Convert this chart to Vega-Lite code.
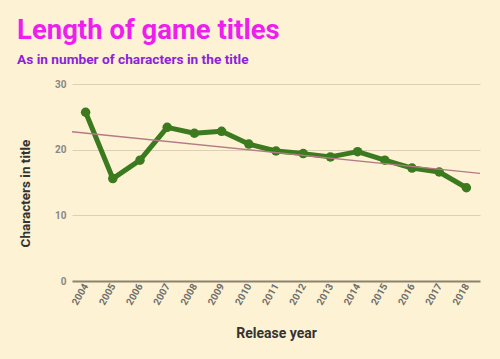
{
  "$schema": "https://vega.github.io/schema/vega-lite/v6.json",
  "width": 408,
  "height": 197,
  "autosize": "none",
  "padding": {"left": 72, "top": 84, "right": 20, "bottom": 78},
  "background": "#fdf2d3",
  "config": {
    "view": {"stroke": null},
    "font": "Roboto"
  },
  "title": {
    "text": "Length of game titles",
    "subtitle": "As in number of characters in the title",
    "anchor": "start",
    "frame": "group",
    "dx": -55,
    "offset": 12,
    "font": "Roboto",
    "fontSize": 27.5,
    "fontWeight": "bold",
    "color": "#ee1fee",
    "subtitleFont": "Roboto",
    "subtitleFontSize": 13.7,
    "subtitleFontWeight": "bold",
    "subtitleColor": "#8b22dd",
    "subtitlePadding": 9
  },
  "data": {
    "values": [
      {"year": 2004, "chars": 25.7},
      {"year": 2005, "chars": 15.6},
      {"year": 2006, "chars": 18.4},
      {"year": 2007, "chars": 23.4},
      {"year": 2008, "chars": 22.5},
      {"year": 2009, "chars": 22.8},
      {"year": 2010, "chars": 20.85},
      {"year": 2011, "chars": 19.8},
      {"year": 2012, "chars": 19.4},
      {"year": 2013, "chars": 18.9},
      {"year": 2014, "chars": 19.7},
      {"year": 2015, "chars": 18.4},
      {"year": 2016, "chars": 17.2},
      {"year": 2017, "chars": 16.6},
      {"year": 2018, "chars": 14.2}
    ]
  },
  "encoding": {
    "x": {
      "field": "year",
      "type": "quantitative",
      "scale": {"domain": [2003.5, 2018.5], "nice": false, "zero": false},
      "axis": {
        "title": "Release year",
        "titleFont": "Roboto",
        "titleFontSize": 14,
        "titleFontWeight": "bold",
        "titleColor": "#333333",
        "titlePadding": 20,
        "values": [2004, 2005, 2006, 2007, 2008, 2009, 2010, 2011, 2012, 2013, 2014, 2015, 2016, 2017, 2018],
        "format": "d",
        "labelAngle": -60,
        "labelFontSize": 10,
        "labelFontWeight": "bold",
        "labelColor": "#6e6e6e",
        "labelPadding": 3,
        "domain": false,
        "ticks": false,
        "grid": false
      }
    },
    "y": {
      "field": "chars",
      "type": "quantitative",
      "scale": {"domain": [0, 30], "nice": false},
      "axis": {
        "title": "Characters in title",
        "titleFont": "Roboto",
        "titleFontSize": 13.5,
        "titleFontWeight": "bold",
        "titleColor": "#333333",
        "titlePadding": 22,
        "titleY": 109,
        "values": [0, 10, 20, 30],
        "labelFontSize": 10,
        "labelFontWeight": "bold",
        "labelColor": "#888888",
        "labelPadding": 6,
        "domain": false,
        "ticks": false,
        "grid": true,
        "gridColor": {"condition": {"test": "datum.value === 0", "value": "#8c8270"}, "value": "#dccfb3"},
        "gridWidth": {"condition": {"test": "datum.value === 0", "value": 2}, "value": 1}
      }
    }
  },
  "layer": [
    {
      "mark": {"type": "line", "color": "#3b7a1f", "strokeWidth": 5, "strokeJoin": "round", "strokeCap": "round",
        "point": {"filled": true, "color": "#3b7a1f", "size": 90}}
    },
    {
      "transform": [{"regression": "chars", "on": "year", "extent": [2003.5, 2018.5]}],
      "mark": {"type": "line", "color": "#b47a86", "strokeWidth": 1.3}
    }
  ]
}
